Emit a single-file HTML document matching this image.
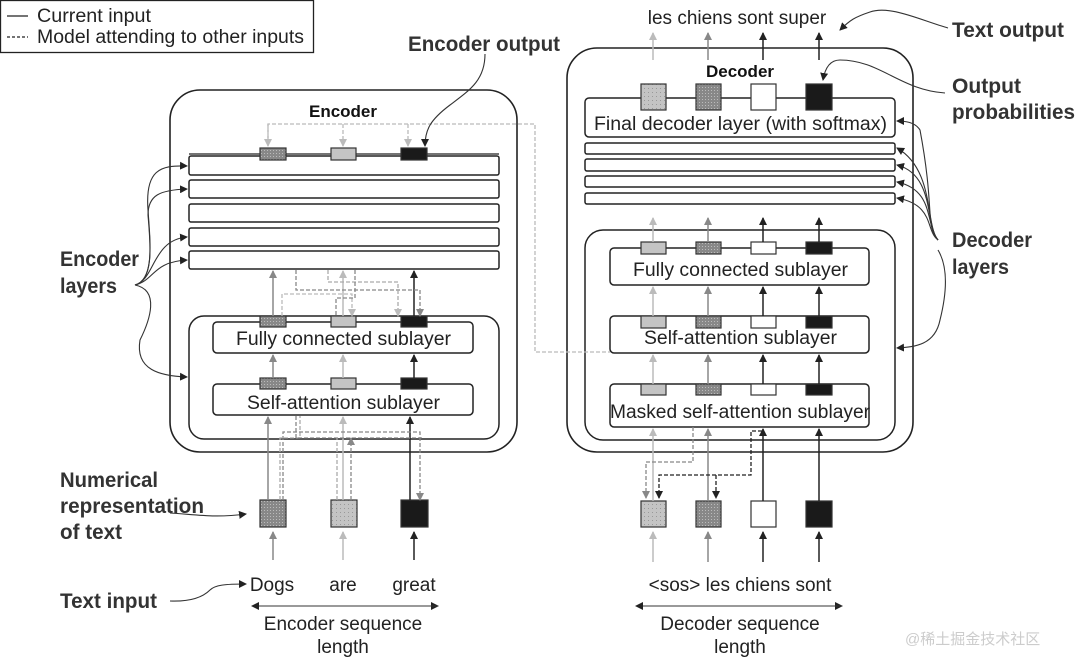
<!DOCTYPE html>
<html><head><meta charset="utf-8"><style>
html,body{margin:0;padding:0;background:#fff;}
svg{display:block;}
.t{font-family:"Liberation Sans",sans-serif;font-size:19px;fill:#222;}
.b{font-family:"Liberation Sans",sans-serif;font-weight:bold;font-size:21px;fill:#333;}
.h{font-family:"Liberation Sans",sans-serif;font-weight:bold;font-size:17px;fill:#111;}
</style></head><body>
<svg width="1075" height="658" viewBox="0 0 1075 658" xmlns="http://www.w3.org/2000/svg">
<defs>
<marker id="ak" markerWidth="8" markerHeight="8" refX="7" refY="4" orient="auto" markerUnits="userSpaceOnUse"><path d="M0,0 L8,4 L0,8z" fill="#222"/></marker>
<marker id="ag" markerWidth="8" markerHeight="8" refX="7" refY="4" orient="auto" markerUnits="userSpaceOnUse"><path d="M0,0 L8,4 L0,8z" fill="#888"/></marker>
<marker id="al" markerWidth="8" markerHeight="8" refX="7" refY="4" orient="auto" markerUnits="userSpaceOnUse"><path d="M0,0 L8,4 L0,8z" fill="#bbb"/></marker>
<pattern id="dd" width="3" height="3" patternUnits="userSpaceOnUse"><rect width="3" height="3" fill="#888"/><rect width="1" height="1" fill="#bbb"/></pattern>
<pattern id="ld" width="4" height="4" patternUnits="userSpaceOnUse"><rect width="4" height="4" fill="#c4c4c4"/><rect width="1" height="1" fill="#999"/></pattern>
</defs>
<g fill="none" stroke="#222" stroke-width="1.3">
<rect x="0.5" y="0.5" width="313" height="52" fill="#fff"/>
<line x1="7" y1="16" x2="28" y2="16"/>
<line x1="7" y1="37" x2="28" y2="37" stroke-dasharray="3,2"/>
<rect x="170" y="90" width="347" height="362" rx="30" stroke-width="1.6"/>
<line x1="189" y1="154" x2="499" y2="154"/>
<rect x="189" y="156" width="310" height="19" rx="2" stroke-width="1.5"/>
<rect x="189" y="180" width="310" height="18" rx="2" stroke-width="1.5"/>
<rect x="189" y="204" width="310" height="18" rx="2" stroke-width="1.5"/>
<rect x="189" y="228" width="310" height="18" rx="2" stroke-width="1.5"/>
<rect x="189" y="251" width="310" height="18" rx="2" stroke-width="1.5"/>
<rect x="189" y="316" width="310" height="123" rx="15" stroke-width="1.5"/>
<rect x="213" y="322" width="260" height="31" rx="4" stroke-width="1.5"/>
<rect x="213" y="384" width="260" height="31" rx="4" stroke-width="1.5"/>
<rect x="567" y="48" width="346" height="404" rx="30" stroke-width="1.6"/>
<rect x="585" y="98" width="310" height="39" rx="4" stroke-width="1.5"/>
<rect x="585" y="143" width="310" height="11" rx="2" stroke-width="1.5"/>
<rect x="585" y="159" width="310" height="12" rx="2" stroke-width="1.5"/>
<rect x="585" y="176" width="310" height="11" rx="2" stroke-width="1.5"/>
<rect x="585" y="193" width="310" height="11" rx="2" stroke-width="1.5"/>
<rect x="585" y="230" width="310" height="210" rx="18" stroke-width="1.5"/>
<rect x="610" y="248" width="259" height="37" rx="4" stroke-width="1.5"/>
<rect x="610" y="316" width="259" height="37" rx="4" stroke-width="1.5"/>
<rect x="610" y="384" width="259" height="43" rx="4" stroke-width="1.5"/>
</g>
<g stroke="#333" stroke-width="1.2">
<rect x="260" y="148" width="26" height="12" fill="url(#dd)"/><rect x="331" y="148" width="25" height="12" fill="#c4c4c4"/><rect x="401" y="148" width="26" height="12" fill="#1a1a1a"/>
<rect x="260" y="316" width="26" height="11" fill="url(#dd)"/><rect x="331" y="316" width="25" height="11" fill="#c4c4c4"/><rect x="401" y="316" width="26" height="11" fill="#1a1a1a"/>
<rect x="260" y="378" width="26" height="11" fill="url(#dd)"/><rect x="331" y="378" width="25" height="11" fill="#c4c4c4"/><rect x="401" y="378" width="26" height="11" fill="#1a1a1a"/>
<rect x="260" y="500" width="26" height="27" fill="url(#dd)"/><rect x="331" y="500" width="26" height="27" fill="url(#ld)"/><rect x="401" y="500" width="27" height="27" fill="#1a1a1a"/>
<rect x="641" y="84" width="25" height="26" fill="url(#ld)"/><rect x="696" y="84" width="25" height="26" fill="url(#dd)"/><rect x="751" y="84" width="25" height="26" fill="#fff"/><rect x="806" y="84" width="26" height="26" fill="#1a1a1a"/>
<rect x="641" y="242" width="25" height="12" fill="#c4c4c4"/><rect x="696" y="242" width="25" height="12" fill="url(#dd)"/><rect x="751" y="242" width="25" height="12" fill="#fff"/><rect x="806" y="242" width="26" height="12" fill="#1a1a1a"/>
<rect x="641" y="316" width="25" height="12" fill="#c4c4c4"/><rect x="696" y="316" width="25" height="12" fill="url(#dd)"/><rect x="751" y="316" width="25" height="12" fill="#fff"/><rect x="806" y="316" width="26" height="12" fill="#1a1a1a"/>
<rect x="641" y="384" width="25" height="11" fill="#c4c4c4"/><rect x="696" y="384" width="25" height="11" fill="url(#dd)"/><rect x="751" y="384" width="25" height="11" fill="#fff"/><rect x="806" y="384" width="26" height="11" fill="#1a1a1a"/>
<rect x="641" y="501" width="25" height="26" fill="url(#ld)"/><rect x="696" y="501" width="25" height="26" fill="url(#dd)"/><rect x="751" y="501" width="25" height="26" fill="#fff"/><rect x="806" y="501" width="26" height="26" fill="#1a1a1a"/>
</g>
<g stroke-width="1.5" fill="none">
<path d="M273 560V532" stroke="#888" marker-end="url(#ag)"/><path d="M343 560V532" stroke="#bbb" marker-end="url(#al)"/><path d="M414 560V532" stroke="#222" marker-end="url(#ak)"/>
<path d="M268 500V417" stroke="#888" marker-end="url(#ag)"/><path d="M343 500V417" stroke="#bbb" marker-end="url(#al)"/><path d="M410 500V417" stroke="#222" marker-end="url(#ak)"/>
<path d="M273 378V355" stroke="#888" marker-end="url(#ag)"/><path d="M343 378V355" stroke="#bbb" marker-end="url(#al)"/><path d="M414 378V355" stroke="#222" marker-end="url(#ak)"/>
<path d="M273 316V271" stroke="#888" marker-end="url(#ag)"/><path d="M343 316V271" stroke="#bbb" marker-end="url(#al)"/><path d="M414 316V271" stroke="#222" marker-end="url(#ak)"/>
</g>
<g stroke-width="1.3" fill="none" stroke-dasharray="4,2">
<path d="M280 500V438H300V416" stroke="#aaa"/><path d="M283 500V432H420V500" stroke="#888" marker-end="url(#ag)"/>
<path d="M296 416V438H422" stroke="#888"/><path d="M337 500V438" stroke="#aaa"/><path d="M351 500V438" stroke="#888" marker-end="url(#ag)"/>
<path d="M296 270V290H420V316" stroke="#888" marker-end="url(#ag)"/><path d="M328 270V282H398V316" stroke="#aaa" marker-end="url(#al)"/>
<path d="M282 316V294H352V316" stroke="#bbb" marker-end="url(#al)"/><path d="M355 270V298H336V316" stroke="#888"/>
<path d="M268 138V124H535V352H610" stroke="#bbb"/><path d="M343 124V146" stroke="#bbb" marker-end="url(#al)"/><path d="M268 124V146" stroke="#bbb" marker-end="url(#al)"/><path d="M408 124V146" stroke="#bbb" marker-end="url(#al)"/>
</g>
<g stroke-width="1.5" fill="none">
<path d="M653 562V532" stroke="#bbb" marker-end="url(#al)"/><path d="M708 562V532" stroke="#888" marker-end="url(#ag)"/><path d="M763 562V532" stroke="#222" marker-end="url(#ak)"/><path d="M819 562V532" stroke="#222" marker-end="url(#ak)"/>
<path d="M653 501V429" stroke="#bbb" marker-end="url(#al)"/><path d="M708 501V429" stroke="#888" marker-end="url(#ag)"/><path d="M763 501V429" stroke="#222" marker-end="url(#ak)"/><path d="M819 501V429" stroke="#222" marker-end="url(#ak)"/>
<path d="M653 384V355" stroke="#bbb" marker-end="url(#al)"/><path d="M708 384V355" stroke="#888" marker-end="url(#ag)"/><path d="M763 384V355" stroke="#222" marker-end="url(#ak)"/><path d="M819 384V355" stroke="#222" marker-end="url(#ak)"/>
<path d="M653 316V287" stroke="#bbb" marker-end="url(#al)"/><path d="M708 316V287" stroke="#888" marker-end="url(#ag)"/><path d="M763 316V287" stroke="#222" marker-end="url(#ak)"/><path d="M819 316V287" stroke="#222" marker-end="url(#ak)"/>
<path d="M653 242V218" stroke="#bbb" marker-end="url(#al)"/><path d="M708 242V218" stroke="#888" marker-end="url(#ag)"/><path d="M763 242V218" stroke="#222" marker-end="url(#ak)"/><path d="M819 242V218" stroke="#222" marker-end="url(#ak)"/>
<path d="M653 60V33" stroke="#bbb" marker-end="url(#al)"/><path d="M708 60V33" stroke="#888" marker-end="url(#ag)"/><path d="M763 60V33" stroke="#222" marker-end="url(#ak)"/><path d="M819 60V33" stroke="#222" marker-end="url(#ak)"/>
</g>
<g stroke-width="1.3" fill="none" stroke-dasharray="4,2">
<path d="M693 427V462H646V498" stroke="#888" marker-end="url(#ag)"/>
<path d="M762 431H751V475H659V498" stroke="#222" marker-end="url(#ak)"/>
<path d="M716 475V498" stroke="#222" marker-end="url(#ak)"/>
</g>
<g stroke="#333" stroke-width="1.1" fill="none">
<path d="M135 285C155 280 150 240 148 210C145 170 160 165 187 166" marker-end="url(#ak)"/>
<path d="M135 285C155 280 150 240 148 215C148 195 160 190 187 189" marker-end="url(#ak)"/>
<path d="M135 285C155 280 152 240 187 237" marker-end="url(#ak)"/>
<path d="M135 285C155 280 152 262 187 260" marker-end="url(#ak)"/>
<path d="M135 285C160 290 150 320 140 340C135 370 160 376 187 377" marker-end="url(#ak)"/>
<path d="M938 240C925 225 935 210 920 130C915 122 905 121 897 121" marker-end="url(#ak)"/>
<path d="M938 240C925 225 935 170 897 148" marker-end="url(#ak)"/>
<path d="M938 240C925 225 935 175 897 165" marker-end="url(#ak)"/>
<path d="M938 240C925 225 935 190 897 182" marker-end="url(#ak)"/>
<path d="M938 240C925 230 935 205 897 198" marker-end="url(#ak)"/>
<path d="M938 250C950 270 945 300 940 320C935 345 915 347 897 348" marker-end="url(#ak)"/>
<path d="M945 93C900 90 880 60 840 60C830 60 825 68 823 80" marker-end="url(#ak)"/>
<path d="M948 28C920 20 890 5 870 12C855 17 850 20 840 30" marker-end="url(#ak)"/>
<path d="M485 54C485 80 470 90 450 105C430 120 425 130 425 146" marker-end="url(#ak)"/>
<path d="M170 513C200 515 215 518 246 514" marker-end="url(#ak)"/>
<path d="M170 601C195 602 205 595 210 590C215 585 225 584 246 584" marker-end="url(#ak)"/>
<path d="M252 606H438" marker-end="url(#ak)"/>
<path d="M438 606H252" marker-end="url(#ak)"/>
<path d="M636 606H842" marker-end="url(#ak)"/>
<path d="M842 606H636" marker-end="url(#ak)"/>
</g>
<text class="t" x="37" y="22" textLength="114" lengthAdjust="spacingAndGlyphs">Current input</text>
<text class="t" x="37" y="43" textLength="267" lengthAdjust="spacingAndGlyphs">Model attending to other inputs</text>
<text class="h" x="343" y="117" text-anchor="middle">Encoder</text>
<text class="h" x="740" y="77" text-anchor="middle">Decoder</text>
<text class="t" x="236" y="345" textLength="215" lengthAdjust="spacingAndGlyphs">Fully connected sublayer</text>
<text class="t" x="247" y="409" textLength="193" lengthAdjust="spacingAndGlyphs">Self-attention sublayer</text>
<text class="t" x="594" y="130" textLength="293" lengthAdjust="spacingAndGlyphs">Final decoder layer (with softmax)</text>
<text class="t" x="633" y="276" textLength="215" lengthAdjust="spacingAndGlyphs">Fully connected sublayer</text>
<text class="t" x="644" y="344" textLength="193" lengthAdjust="spacingAndGlyphs">Self-attention sublayer</text>
<text class="t" x="610" y="418" textLength="260" lengthAdjust="spacingAndGlyphs">Masked self-attention sublayer</text>
<text class="t" x="272" y="591" text-anchor="middle">Dogs</text>
<text class="t" x="343" y="591" text-anchor="middle">are</text>
<text class="t" x="414" y="591" text-anchor="middle">great</text>
<text class="t" x="740" y="591" text-anchor="middle">&lt;sos&gt; les chiens sont</text>
<text class="t" x="737" y="24" text-anchor="middle">les chiens sont super</text>
<text class="t" x="343" y="630" text-anchor="middle">Encoder sequence</text>
<text class="t" x="343" y="653" text-anchor="middle">length</text>
<text class="t" x="740" y="630" text-anchor="middle">Decoder sequence</text>
<text class="t" x="740" y="653" text-anchor="middle">length</text>
<text class="b" x="60" y="266" textLength="79" lengthAdjust="spacingAndGlyphs">Encoder</text>
<text class="b" x="60" y="293" textLength="57" lengthAdjust="spacingAndGlyphs">layers</text>
<text class="b" x="60" y="487" textLength="98" lengthAdjust="spacingAndGlyphs">Numerical</text>
<text class="b" x="60" y="513" textLength="144" lengthAdjust="spacingAndGlyphs">representation</text>
<text class="b" x="60" y="539" textLength="62" lengthAdjust="spacingAndGlyphs">of text</text>
<text class="b" x="60" y="608" textLength="97" lengthAdjust="spacingAndGlyphs">Text input</text>
<text class="b" x="408" y="51" textLength="152" lengthAdjust="spacingAndGlyphs">Encoder output</text>
<text class="b" x="952" y="37" textLength="112" lengthAdjust="spacingAndGlyphs">Text output</text>
<text class="b" x="952" y="93" textLength="69" lengthAdjust="spacingAndGlyphs">Output</text>
<text class="b" x="952" y="119" textLength="123" lengthAdjust="spacingAndGlyphs">probabilities</text>
<text class="b" x="952" y="247" textLength="80" lengthAdjust="spacingAndGlyphs">Decoder</text>
<text class="b" x="952" y="274" textLength="57" lengthAdjust="spacingAndGlyphs">layers</text>
<text x="905" y="644" style="font-family:'Liberation Sans','Noto Sans CJK SC',sans-serif;font-size:15px;fill:#ccc">@稀土掘金技术社区</text>
</svg>
</body></html>
